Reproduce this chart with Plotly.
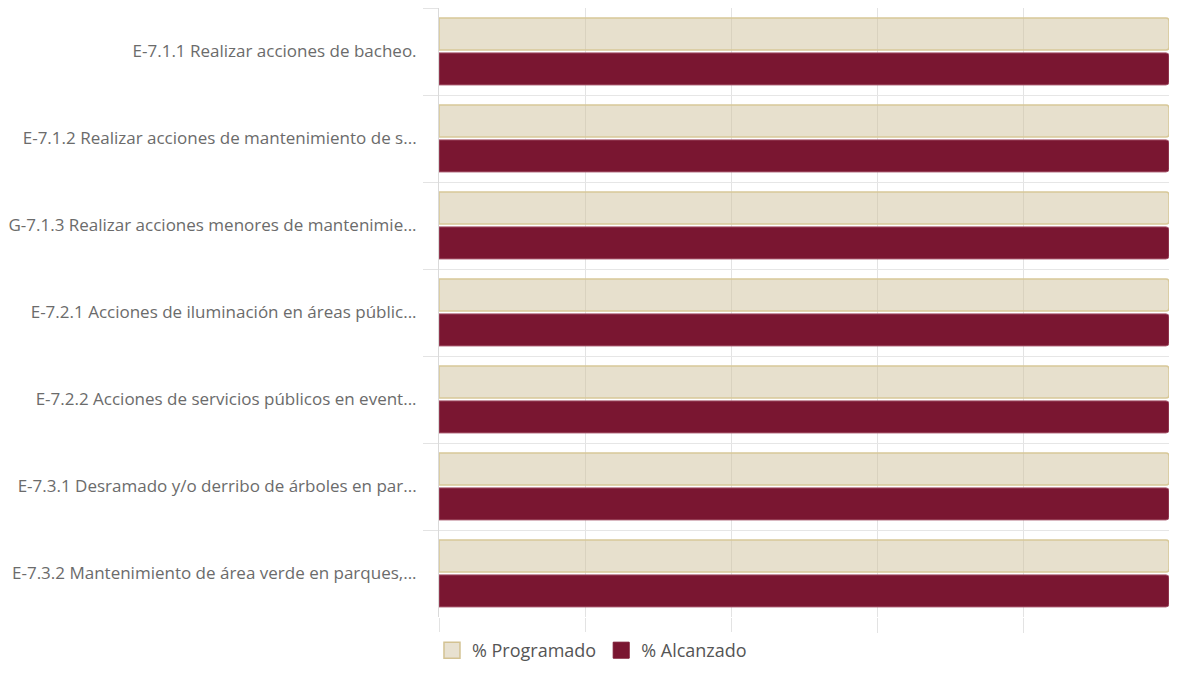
import plotly.graph_objects as go

categories = [
    "E-7.1.1 Realizar acciones de bacheo.",
    "E-7.1.2 Realizar acciones de mantenimiento de s...",
    "G-7.1.3 Realizar acciones menores de mantenimie...",
    "E-7.2.1 Acciones de iluminación en áreas públic...",
    "E-7.2.2 Acciones de servicios públicos en event...",
    "E-7.3.1 Desramado y/o derribo de árboles en par...",
    "E-7.3.2 Mantenimiento de área verde en parques,...",
]
series_names = ["% Programado", "% Alcanzado"]
programado = [100, 100, 100, 100, 100, 100, 100]
alcanzado = [100, 100, 100, 100, 100, 100, 100]

prog_fill = "rgba(208,194,155,0.5)"
prog_line = "#D8C898"
alc_fill = "#7A1631"
alc_line = "#A5556A"

fig = go.Figure()
fig.add_trace(go.Bar(
    y=categories, x=programado, orientation="h", name=series_names[0],
    marker=dict(color=prog_fill, line=dict(color=prog_line, width=1.5)),
    showlegend=False, legendgroup="p",
))
fig.add_trace(go.Bar(
    y=categories, x=alcanzado, orientation="h", name=series_names[1],
    marker=dict(color=alc_fill, line=dict(color=alc_line, width=1)),
    showlegend=False, legendgroup="a",
))
# legend entries with larger square swatches
fig.add_trace(go.Scatter(
    x=[None], y=[None], mode="markers", name=series_names[0], legendgroup="p",
    marker=dict(symbol="square", size=16, color="#E8E1D0", line=dict(color="#D3C292", width=1.5)),
))
fig.add_trace(go.Scatter(
    x=[None], y=[None], mode="markers", name=series_names[1], legendgroup="a",
    marker=dict(symbol="square", size=16, color=alc_fill, line=dict(color=alc_fill, width=1)),
))

fig.update_layout(
    width=1161, height=661,
    margin=dict(l=429, r=0, t=0, b=52),
    paper_bgcolor="white", plot_bgcolor="white",
    barmode="group", bargap=0.2, bargroupgap=0.08, barcornerradius=3,
    font=dict(family="Open Sans, Noto Sans, sans-serif", size=17, color="#6B6B6B"),
    legend=dict(orientation="h", xref="container", x=0.503, xanchor="center",
                yref="container", y=0.0, yanchor="bottom",
                font=dict(size=18, color="#555555"), itemwidth=30, tracegroupgap=0),
    showlegend=True,
)
fig.update_xaxes(range=[0, 100], dtick=20, showticklabels=False,
                 showgrid=True, gridcolor="#E3E3E3", gridwidth=1,
                 ticks="outside", ticklen=15, tickcolor="#E3E3E3",
                 zeroline=False, showline=False, fixedrange=True)
fig.update_yaxes(autorange="reversed", tickson="boundaries",
                 showgrid=True, gridcolor="#E6E6E6", ticks="outside", ticklen=15,
                 tickcolor="#E3E3E3", showline=True, linecolor="#DADADA",
                 ticklabelstandoff=18,
                 tickfont=dict(size=17, color="#6B6B6B"))

fig.write_html("out.html")
